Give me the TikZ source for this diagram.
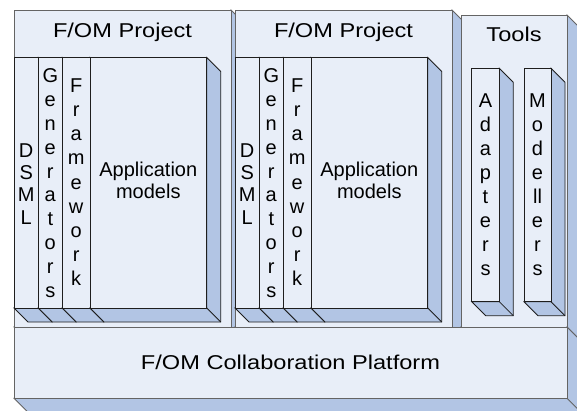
\documentclass[tikz,border=0pt]{standalone}
\usepackage{fontspec}
\setmainfont{Liberation Sans}
\newfontfamily\titlefont[FakeStretch=1.18]{Liberation Sans}
\definecolor{facefill}{RGB}{232,238,248}
\definecolor{sidefill}{RGB}{178,197,228}
\definecolor{outeredge}{RGB}{100,100,100}
\definecolor{inneredge}{RGB}{30,30,30}
% #1 x1, #2 y1, #3 x2, #4 y2, #5 depth, #6 edge style
\newcommand\tdbox[6]{%
  \filldraw[sideface,#6] (#3,#2) -- ({#3+#5},{#2+#5}) -- ({#3+#5},{#4+#5}) -- ({#1+#5},{#4+#5}) -- (#1,#4) -- (#3,#4) -- cycle;
  \draw[#6] (#3,#4) -- ({#3+#5},{#4+#5});
  \filldraw[frontface,#6] (#1,#2) rectangle (#3,#4);
}
\tikzset{
  sideface/.style={fill=sidefill},
  frontface/.style={fill=facefill},
  outerbox/.style={draw=outeredge, line width=0.8pt},
  innerbox/.style={draw=inneredge, line width=0.8pt},
  titletext/.style={inner sep=0pt, anchor=base, font=\titlefont\fontsize{20}{24}\selectfont, text=black},
  vword/.style={inner sep=0pt, anchor=north, align=center, text=black},
}
\begin{document}
\begin{tikzpicture}[x=1pt,y=-1pt]
\useasboundingbox (0,0) rectangle (577,410);
\clip (0,0) rectangle (577,410);
% ---------- Project 1 ----------
\tdbox{14}{10}{231}{327}{14}{outerbox}
\node[titletext] (p1title) at (122.5,37.3) {F/OM Project};
\tdbox{14}{57.5}{38.3}{308}{14}{innerbox}
\tdbox{38.3}{57.5}{62.3}{308}{14}{innerbox}
\tdbox{62.3}{57.5}{90}{308}{14}{innerbox}
\tdbox{90}{57.5}{206.7}{308}{14}{innerbox}
\node[vword, font=\fontsize{20}{22.3}\selectfont] (p1dsml) at (26.2,143.3) {D\\S\\M\\L};
\node[vword, font=\fontsize{20}{23.9}\selectfont] (p1gen) at (50.3,68.3) {G\\e\\n\\e\\r\\a\\t\\o\\r\\s};
\node[vword, font=\fontsize{20}{24.2}\selectfont] (p1frame) at (76.2,78.3) {F\\r\\a\\m\\e\\w\\o\\r\\k};
\node[vword, font=\fontsize{20}{22.5}\selectfont] (p1app) at (148.3,161.7) {Application\\models};
% ---------- Project 2 ----------
\tdbox{235}{10}{452}{327}{14}{outerbox}
\node[titletext] (p2title) at (343.5,37.3) {F/OM Project};
\tdbox{235}{57.5}{259.3}{308}{14}{innerbox}
\tdbox{259.3}{57.5}{283.3}{308}{14}{innerbox}
\tdbox{283.3}{57.5}{311}{308}{14}{innerbox}
\tdbox{311}{57.5}{427.7}{308}{14}{innerbox}
\node[vword, font=\fontsize{20}{22.3}\selectfont] (p2dsml) at (247.2,143.3) {D\\S\\M\\L};
\node[vword, font=\fontsize{20}{23.9}\selectfont] (p2gen) at (271.3,68.3) {G\\e\\n\\e\\r\\a\\t\\o\\r\\s};
\node[vword, font=\fontsize{20}{24.2}\selectfont] (p2frame) at (297.2,78.3) {F\\r\\a\\m\\e\\w\\o\\r\\k};
\node[vword, font=\fontsize{20}{22.5}\selectfont] (p2app) at (369.3,161.7) {Application\\models};
% ---------- Tools ----------
\tdbox{461}{15}{567}{327}{14}{outerbox}
\node[titletext] (toolstitle) at (514,41.7) {Tools};
\tdbox{471.7}{68.3}{499.3}{301.7}{14}{innerbox}
\tdbox{524}{68.3}{551}{301.7}{14}{innerbox}
\node[vword, font=\fontsize{20}{24}\selectfont] (adapters) at (485.5,93.3) {A\\d\\a\\p\\t\\e\\r\\s};
\node[vword, font=\fontsize{20}{24}\selectfont] (modellers) at (537.5,93.3) {M\\o\\d\\e\\ll\\e\\r\\s};
% ---------- Platform ----------
\tdbox{14}{327}{567}{398.3}{14}{outerbox}
\node[titletext] (platform) at (290.5,369.5) {F/OM Collaboration Platform};
\end{tikzpicture}
\end{document}
